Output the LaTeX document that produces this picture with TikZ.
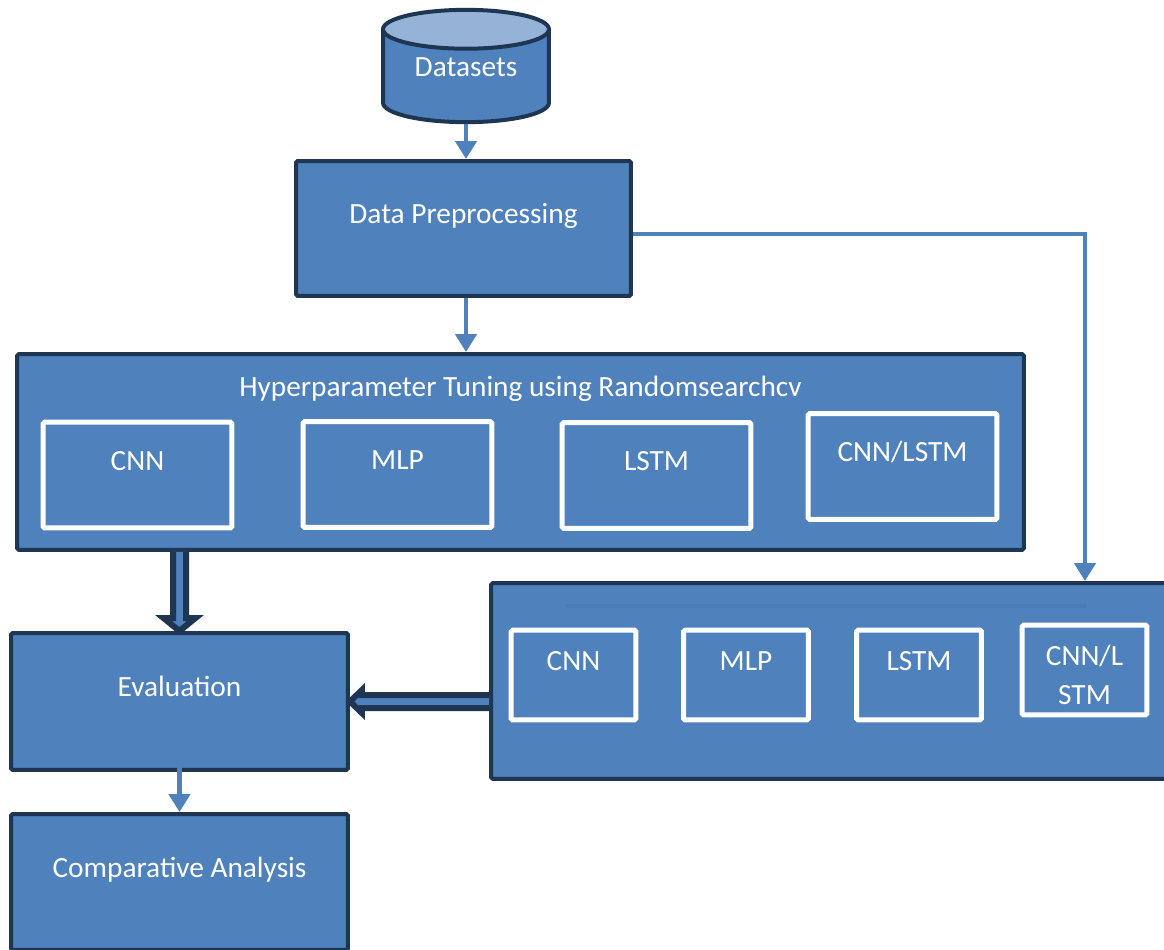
\documentclass[tikz,border=0pt]{standalone}
\usepackage{fontspec}
\setmainfont{Carlito}
\usetikzlibrary{calc,arrows.meta,shapes.geometric}
\definecolor{boxblue}{HTML}{4F81BD}
\definecolor{boxedge}{HTML}{1F3652}
\definecolor{toplight}{HTML}{95B3D7}
\definecolor{titleline}{HTML}{4B7CB8}

\begin{document}
\begin{tikzpicture}[x=0.02cm,y=-0.02cm]
    \tikzstyle{box}=[rectangle,rounded corners=1pt,draw=boxedge,line width=0.08cm,fill=boxblue,text=white,font=\fontsize{16.7}{22}\selectfont,text height=0.4cm,text depth=0.6cm]
    \tikzstyle{mbox}=[rectangle,rounded corners=1pt,draw=white,line width=0.1cm,text=white,font=\fontsize{16.7}{22}\selectfont,text height=0.4cm,text depth=0.6cm]
    \tikzstyle{txt}=[text=white,font=\fontsize{16.7}{22}\selectfont,inner sep=0pt]
    \tikzstyle{flow}=[draw=boxblue,line width=0.09cm,-{Triangle[length=0.36cm,width=0.42cm]}]
    \tikzstyle{fat}=[draw=boxedge,line width=0.12cm,fill=boxblue,line join=miter]
    \useasboundingbox (0,0) rectangle (1164,950);
    \clip (0,0) rectangle (1164,950);

    \node[cylinder,shape border rotate=90,aspect=0.34,anchor=shape center,draw=boxedge,line width=0.08cm,cylinder uses custom fill,cylinder body fill=boxblue,cylinder end fill=toplight,minimum width=3.32cm,minimum height=2.24cm,text=white,font=\fontsize{16.7}{22}\selectfont,text height=0.4cm,text depth=0.55cm] (data) at (466,66) {Datasets};
    \node[box,minimum width=6.7cm,minimum height=2.7cm] (prep) at (463.5,228.5) {Data Preprocessing};

    \node[box,minimum width=20.14cm,minimum height=3.92cm] (hyper) at (520.5,452) {};
    \node[txt,anchor=base] (title) at ($(hyper.north)+(0,44)$) {Hyperparameter Tuning using Randomsearchcv};
    \node[mbox,minimum width=3.78cm,minimum height=2.12cm] (h1) at (137.5,475) {CNN};
    \node[mbox,minimum width=3.78cm,minimum height=2.12cm] (h2) at (397.5,474.5) {MLP};
    \node[mbox,minimum width=3.78cm,minimum height=2.12cm] (h3) at (656.5,475.5) {LSTM};
    \node[mbox,minimum width=3.78cm,minimum height=2.12cm] (h4) at (902.5,466.5) {CNN/LSTM};

    \node[box,minimum width=14cm,minimum height=3.92cm] (rbox) at (841,681) {};
    \draw[titleline,line width=0.08cm] (565,606) -- (1087,606);
    \node[mbox,minimum width=2.5cm,minimum height=1.8cm] (r1) at (573.5,675) {CNN};
    \node[mbox,minimum width=2.5cm,minimum height=1.8cm] (r2) at (746,675) {MLP};
    \node[mbox,minimum width=2.5cm,minimum height=1.8cm] (r3) at (919,675) {LSTM};
    \node[mbox,minimum width=2.5cm,minimum height=1.8cm] (r4) at (1084.5,670) {};
    \begin{scope}
        \clip (r4.north west) rectangle ($(r4.south east)+(0,-11)$);
        \node[txt,align=center] (r4text) at ($(r4.center)+(0,5)$) {CNN/L\\STM};
    \end{scope}

    \node[box,minimum width=6.74cm,minimum height=2.74cm] (eval) at (179.5,701.5) {Evaluation};
    \node[box,minimum width=6.74cm,minimum height=2.72cm] (comp) at (179.5,882) {Comparative Analysis};

    \draw[flow] (data.south) -- (prep.north -| data.south);
    \draw[flow] (data.south |- prep.south) -- (data.south |- hyper.north);
    \coordinate (turn) at (1085,234);
    \draw[flow] (prep.east |- turn) -- (turn) -- (turn |- rbox.north);
    \draw[flow] ($(eval.center)+(0,21)$) -- (comp.north);

    \path (eval.north) coordinate (e1) (hyper.south -| eval.north) coordinate (s1);
    \draw[fat] (s1) ++(-6.5,0) -- ($(e1)+(-6.5,-13)$) -- ($(e1)+(-16,-13)$) -- (e1) -- ($(e1)+(16,-13)$) -- ($(e1)+(6.5,-13)$) -- ($(s1)+(6.5,0)$);
    \path (eval.east) coordinate (e2) (rbox.west |- eval.east) coordinate (s2);
    \draw[fat] ($(s2)+(0,-6.5)$) -- ($(e2)+(12,-6.5)$) -- ($(e2)+(12,-11.5)$) -- (e2) -- ($(e2)+(12,11.5)$) -- ($(e2)+(12,6.5)$) -- ($(s2)+(0,6.5)$);
\end{tikzpicture}
\end{document}
